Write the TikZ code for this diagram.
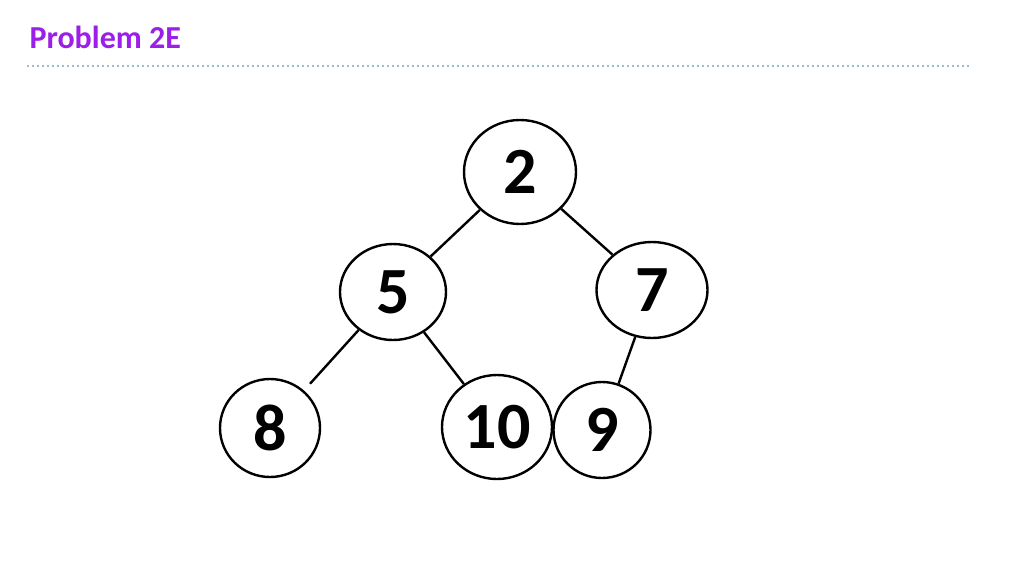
\documentclass[tikz,border=0pt]{standalone}
\usepackage{fontspec}
\usetikzlibrary{shapes.geometric}
\setmainfont{Carlito}
\definecolor{ttl}{HTML}{9B1FE8}
\definecolor{dotc}{HTML}{2F7F9A}
\begin{document}
\begin{tikzpicture}[x=1pt,y=-1pt,
  ed/.style={line width=2.4pt}]
\useasboundingbox[fill=white] (0,0) rectangle (1024,576);
\node[anchor=west,text=ttl,font=\fontsize{32}{32}\selectfont\bfseries] (t) at (26,37) {Problem 2E};
\coordinate (l1) at (28,66); \coordinate (l2) at (968,66);
\draw[dotc,line width=1.8pt,line cap=round,dash pattern=on 0pt off 5pt] (l1) -- (l2);
\tikzset{circ/.style 2 args={draw,line width=2.4pt,ellipse,minimum width=#1,minimum height=#2,inner sep=0pt,font=\fontsize{66}{66}\selectfont\bfseries}}
\node[circ={112}{104}] (n2) at (520,172) {2};
\node[circ={106}{96}] (n5) at (393,292) {5};
\node[circ={111}{96}] (n7) at (652,290) {7};
\node[circ={100}{98}] (n8) at (270,428) {8};
\node[circ={110}{104}] (n10) at (497,427) {10};
\node[circ={97}{96}] (n9) at (602,430) {9};
\draw[ed] (n2) -- (n5);
\draw[ed] (n2) -- (n7);
\draw[ed,shorten >=9pt] (n5) -- (n8);
\draw[ed] (n5) -- (n10);
\draw[ed] (n7) -- (n9);
\end{tikzpicture}
\end{document}
